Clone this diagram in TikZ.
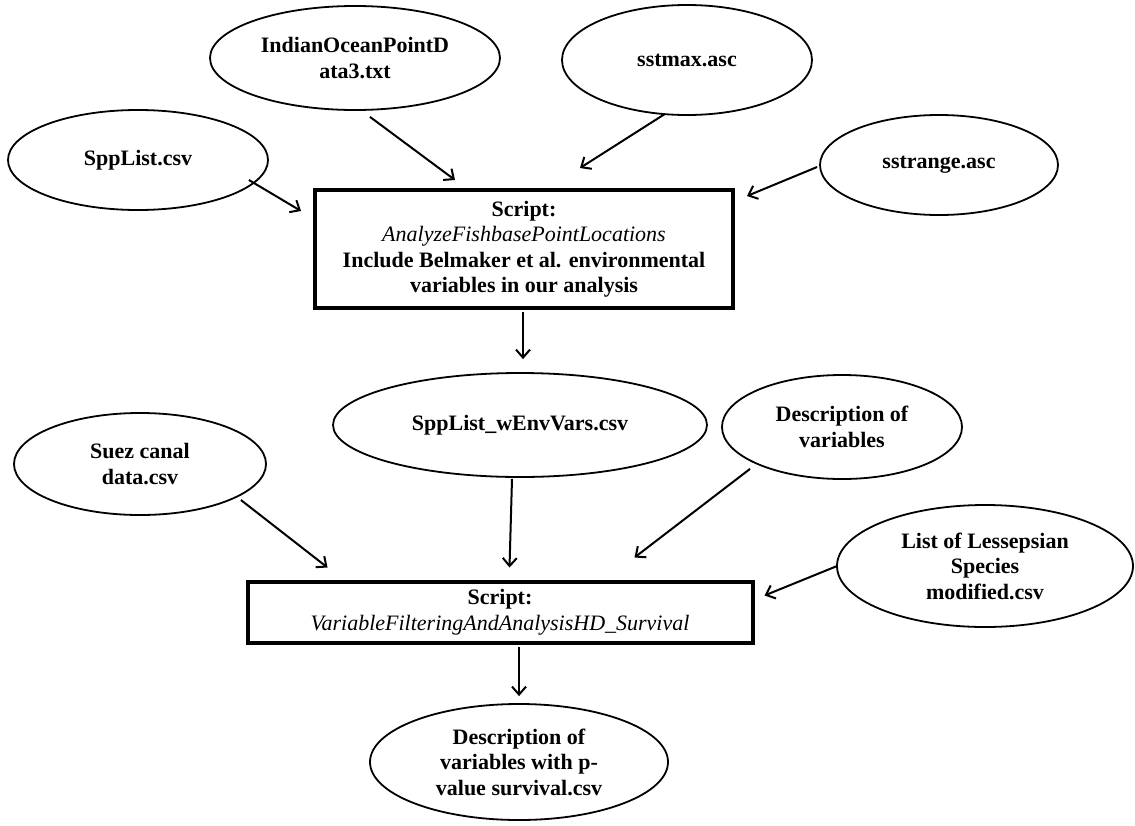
\documentclass[tikz,border=0pt]{standalone}
\usepackage{fontspec}
\setmainfont{Liberation Serif}
\usetikzlibrary{shapes.geometric,arrows.meta,calc}
\begin{document}
\begin{tikzpicture}[x=1pt,y=-1pt,
  txt/.style={font=\bfseries\fontsize{22}{25.5}\selectfont, align=center},
  ell/.style={txt, ellipse, draw, line width=1.8pt, inner sep=-80pt},
  scriptbox/.style={txt, rectangle, draw, line width=4pt, inner sep=0pt},
  arr/.style={-{Straight Barb[length=8pt,width=14pt,line width=2pt]}, line width=2pt}]
\useasboundingbox (0,0) rectangle (1135,825);
\node[ell, minimum width=290pt, minimum height=104pt] (ind) at (355,58) {IndianOceanPointD\\ata3.txt};
\node[ell, minimum width=250pt, minimum height=110pt] (smax) at (687,60) {sstmax.asc};
\node[ell, minimum width=260pt, minimum height=100pt] (spp) at (138,160) {SppList.csv};
\node[ell, minimum width=238pt, minimum height=100pt] (srange) at (939,165) {sstrange.asc};
\node[scriptbox, minimum width=418pt, minimum height=118pt] (box1) at (524,249)
  {Script:\\{\mdseries\itshape AnalyzeFishbasePointLocations}\\Include Belmaker et al. environmental\\variables in our analysis};
\node[ell, minimum width=374pt, minimum height=104pt] (wenv) at (520,425) {SppList\_wEnvVars.csv};
\node[ell, minimum width=240pt, minimum height=104pt] (desc) at (842,427) {Description of\\variables};
\node[ell, minimum width=252pt, minimum height=102pt] (suez) at (140,464) {Suez canal\\data.csv};
\node[ell, minimum width=296pt, minimum height=122pt] (list) at (985,566) {List of Lessepsian\\Species\\modified.csv};
\node[scriptbox, minimum width=505pt, minimum height=61pt] (box2) at (500,612)
  {Script:\\{\mdseries\itshape VariableFilteringAndAnalysisHD\_Survival}};
\node[ell, minimum width=298pt, minimum height=116pt] (fin) at (519,762) {Description of\\variables with p-\\value survival.csv};

\draw[arr] ($(ind.south)+(15,6)$) -- ($(box1.north west)+(142,-8)$);
\draw[arr] ($(smax.south)+(-22,-2)$) -- ($(box1.north west)+(267,-20)$);
\draw[arr] ($(spp.east)+(-20,20)$) -- ($(box1.north west)+(-12,23)$);
\draw[arr] ($(srange.west)+(-2,2)$) -- ($(box1.north east)+(12,8)$);
\draw[arr] ($(box1.south)+(-1,2)$) -- ($(wenv.north)+(3,-13)$);
\draw[arr] ($(wenv.south)+(-8,1)$) -- ($(box2.north west)+(264,-12)$);
\draw[arr] ($(suez.east)+(-26,36)$) -- ($(box2.north west)+(82,-12)$);
\draw[arr] ($(desc.south)+(-92,-11)$) -- ($(box2.north west)+(389,-22)$);
\draw[arr] ($(list.west)+(1,0)$) -- ($(box2.north east)+(10,16)$);
\draw[arr] ($(box2.south)+(19,2)$) -- ($(fin.north)+(0,-7)$);
\end{tikzpicture}
\end{document}
